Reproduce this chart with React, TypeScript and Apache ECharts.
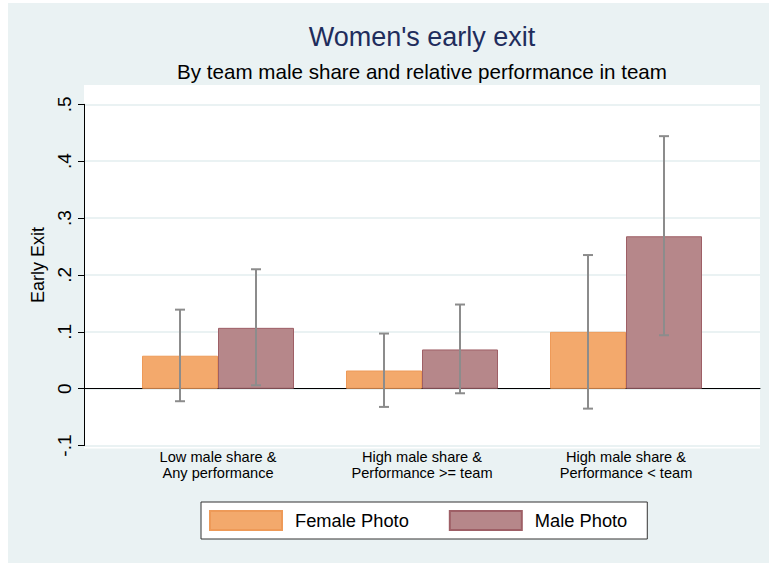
import React, { useEffect, useRef } from "react";
import * as echarts from "echarts";

const categories = [
  "Low male share &\nAny performance",
  "High male share &\nPerformance >= team",
  "High male share &\nPerformance < team",
];
const seriesNames = ["Female Photo", "Male Photo"];
const femaleMean = [0.058, 0.032, 0.1];
const maleMean = [0.107, 0.069, 0.268];
const femaleLow = [-0.022, -0.032, -0.035];
const femaleHigh = [0.139, 0.097, 0.235];
const maleLow = [0.006, -0.008, 0.094];
const maleHigh = [0.21, 0.148, 0.444];
const yMin = -0.1;
const yMax = 0.5;
const yStep = 0.1;

const FONT = "'Liberation Sans', Arial, Helvetica, sans-serif";
const BAR_W = 76;

function fmtTick(v: number): string {
  if (Math.abs(v) < 1e-9) return "0";
  return v.toFixed(1).replace("0.", ".");
}

function errorSeries(low: number[], high: number[], side: number) {
  return {
    type: "custom",
    xAxisIndex: 1,
    yAxisIndex: 1,
    z: 5,
    silent: true,
    data: categories.map((_, i) => [i, low[i], high[i]]),
    renderItem: (params: any, api: any) => {
      const i = api.value(0);
      const lo = api.coord([i, api.value(1)]);
      const hi = api.coord([i, api.value(2)]);
      const x = lo[0] + side * (BAR_W / 2);
      const cap = 5;
      const style = { stroke: "#8c8c8c", lineWidth: 2 };
      return {
        type: "group",
        children: [
          { type: "line", shape: { x1: x, y1: lo[1], x2: x, y2: hi[1] }, style },
          { type: "line", shape: { x1: x - cap, y1: lo[1], x2: x + cap, y2: lo[1] }, style },
          { type: "line", shape: { x1: x - cap, y1: hi[1], x2: x + cap, y2: hi[1] }, style },
        ],
      };
    },
  };
}

export default function App() {
  const ref = useRef<HTMLDivElement>(null);
  useEffect(() => {
    if (!ref.current) return;
    const chart = echarts.init(ref.current, null, { renderer: "svg" });
    const gridTop = 101.3;
    const gridBottom = 117.4;
    chart.setOption({
      animation: false,
      backgroundColor: "#eaf2f3",
      textStyle: { fontFamily: FONT },
      title: [
        {
          text: "Women's early exit",
          left: 414,
          textAlign: "center",
          top: 20,
          padding: 0,
          textStyle: { fontSize: 27, fontWeight: "normal", color: "#1f2d5c", fontFamily: FONT },
        },
        {
          text: "By team male share and relative performance in team",
          left: 414,
          textAlign: "center",
          top: 58,
          padding: 0,
          textStyle: { fontSize: 20.6, fontWeight: "normal", color: "#000", fontFamily: FONT },
        },
      ],
      graphic: [
        {
          type: "rect",
          z: -10,
          shape: { x: 76, y: 82, width: 676, height: 363.6 },
          style: { fill: "#ffffff" },
        },
      ],
      legend: {
        data: seriesNames,
        left: 193,
        top: 499,
        orient: "horizontal",
        padding: [8, 20, 8, 8],
        backgroundColor: "#ffffff",
        borderColor: "#333",
        borderWidth: 1,
        borderRadius: 0,
        itemWidth: 72,
        itemHeight: 19,
        itemGap: 40,
        icon: "rect",
        textStyle: { fontSize: 18.3, color: "#000", fontFamily: FONT, padding: [0, 0, 0, 8] },
      },
      grid: [
        { left: 76, right: 9, top: gridTop, bottom: gridBottom },
        { left: 108, right: 41, top: gridTop, bottom: gridBottom },
      ],
      xAxis: [
        {
          type: "category",
          gridIndex: 0,
          data: [""],
          axisLine: { show: true, lineStyle: { color: "#000", width: 1 } },
          axisTick: { show: false },
          axisLabel: { show: false },
          splitLine: { show: false },
        },
        {
          type: "category",
          gridIndex: 1,
          data: categories,
          axisLine: { show: false },
          axisTick: { show: false },
          splitLine: { show: false },
          axisLabel: {
            interval: 0,
            fontSize: 14.6,
            lineHeight: 16,
            margin: 3,
            color: "#000",
            fontFamily: FONT,
          },
        },
      ],
      yAxis: [
        {
          type: "value",
          gridIndex: 0,
          min: yMin,
          max: yMax,
          interval: yStep,
          name: "Early Exit",
          nameLocation: "middle",
          nameGap: 35,
          nameTextStyle: { fontSize: 18, color: "#000", fontFamily: FONT, padding: [0, 0, 0, 20] },
          axisLine: { show: true, lineStyle: { color: "#000", width: 1 } },
          axisTick: { show: true, length: 6, lineStyle: { color: "#000" } },
          axisLabel: {
            rotate: 90,
            fontSize: 19,
            margin: 10,
            color: "#000",
            fontFamily: FONT,
            formatter: (v: number) => fmtTick(v),
          },
          splitLine: { show: true, lineStyle: { color: "#eaf2f3", width: 2 } },
        },
        {
          type: "value",
          gridIndex: 1,
          min: yMin,
          max: yMax,
          interval: yStep,
          show: false,
          splitLine: { show: false },
        },
      ],
      series: [
        {
          name: seriesNames[0],
          type: "bar",
          xAxisIndex: 1,
          yAxisIndex: 1,
          barWidth: BAR_W,
          barGap: "0%",
          data: femaleMean,
          itemStyle: { color: "#f3a96c", borderColor: "#ee9a58", borderWidth: 1 },
        },
        {
          name: seriesNames[1],
          type: "bar",
          xAxisIndex: 1,
          yAxisIndex: 1,
          barWidth: BAR_W,
          barGap: "0%",
          data: maleMean,
          itemStyle: { color: "#b6878a", borderColor: "#9e5f66", borderWidth: 1 },
        },
        errorSeries(femaleLow, femaleHigh, -1),
        errorSeries(maleLow, maleHigh, 1),
      ],
    });
    return () => chart.dispose();
  }, []);
  return (
    <div
      ref={ref}
      style={{ position: "absolute", left: 8, top: 3, width: 761, height: 560 }}
    />
  );
}
